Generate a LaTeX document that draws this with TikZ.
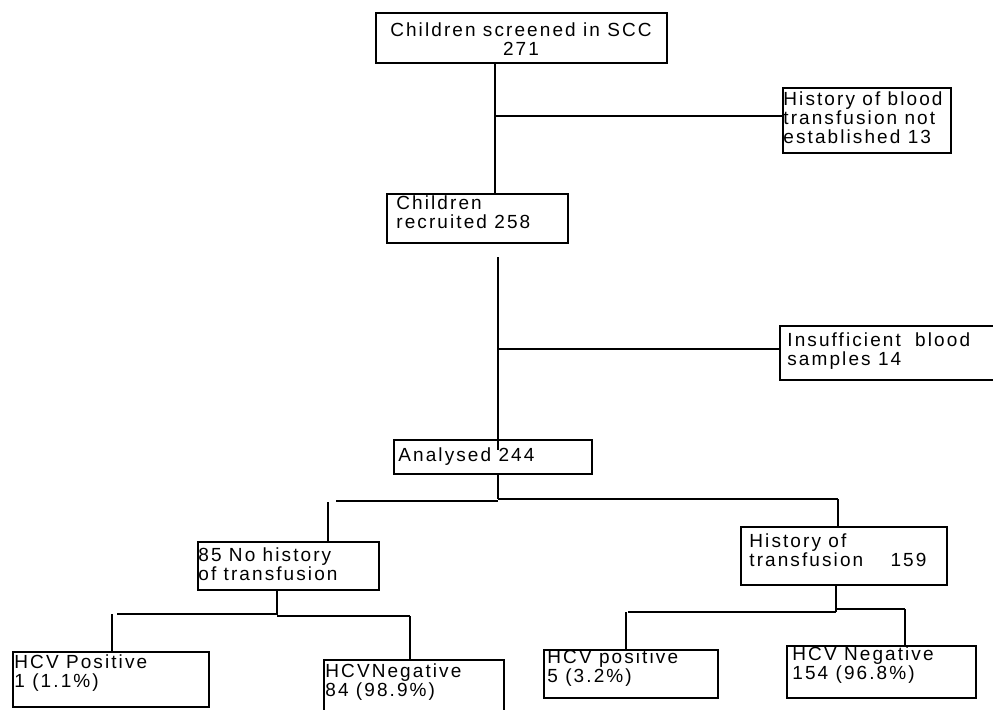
\documentclass[tikz,border=0pt]{standalone}
\usepackage{fontspec}
\setmainfont[LetterSpace=11]{Liberation Sans}
\begin{document}
\begin{tikzpicture}[x=0.5pt,y=-0.5pt,
  box/.style={draw, line width=1pt, inner sep=0pt, anchor=north west},
  txt/.style={inner sep=0pt, anchor=north west, align=left, font=\fontsize{9.5}{9.5}\selectfont},
  vline/.style={line width=1.1pt},
  hline/.style={line width=0.7pt}]
\useasboundingbox (0,0) rectangle (993,709);
\clip (0,0) rectangle (993,709);
% boxes
\node[box, minimum width=145.5pt, minimum height=25pt] (b1) at (375,12) {};
\node[box, minimum width=90.5pt, minimum height=24.5pt] (b2) at (386,193) {};
\node[box, minimum width=84pt, minimum height=32.5pt] (b3) at (782,87) {};
\node[box, minimum width=115pt, minimum height=27pt] (b4) at (779,325) {};
\node[box, minimum width=99pt, minimum height=17pt] (ba) at (393,439) {};
\node[box, minimum width=90.5pt, minimum height=24pt] (b85) at (197,541) {};
\node[box, minimum width=103pt, minimum height=29pt] (bh) at (740,526) {};
\node[box, minimum width=98pt, minimum height=27.5pt] (blp) at (12,651) {};
\node[box, minimum width=90pt, minimum height=35pt] (bln) at (323,659) {};
\node[box, minimum width=87pt, minimum height=24pt] (brp) at (543,649) {};
\node[box, minimum width=94.5pt, minimum height=26pt] (brn) at (786,645) {};
% texts
\node[txt, anchor=north, align=center] (t1) at (521,22) {Children screened in SCC\\271};
\node[txt] (t2) at (396,195) {Children\\recruited 258};
\node[txt] (t3) at (783,91) {History of blood\\transfusion not\\established 13};
\node[txt] (t4) at (787,332) {Insufficient\hspace{3.5pt} blood\\samples 14};
\node[txt] (ta) at (398,447) {Analysed 244};
\node[txt] (t85) at (198,547) {85 No history\\of transfusion};
\node[txt] (th) at (749,533) {History of\\transfusion\hspace{10pt} 159};
\node[txt] (tlp) at (14,654) {HCV Positive\\1 (1.1\%)};
\node[txt] (tln) at (325,663) {HCVNegative\\84 (98.9\%)};
\node[txt] (trp) at (547,649) {HCV positive\\5 (3.2\%)};
\node[txt] (trn) at (792,646) {HCV Negative\\154 (96.8\%)};
% trunk 1
\coordinate (c1) at (495,116);
\draw[vline] (c1 |- b1.south) -- (c1 |- b2.north);
\draw[hline] (c1) -- (c1 -| b3.west);
% trunk 2
\coordinate (t2top) at (498,257);
\coordinate (t2bot) at (498,450);
\coordinate (c2) at (498,349);
\draw[vline] (t2top) -- (t2bot);
\draw[hline] (c2) -- (c2 -| b4.west);
% split after analysed
\coordinate (j1) at (498,499);
\coordinate (j1r) at (838,499);
\coordinate (j1l) at (336,501);
\coordinate (k1) at (328,502);
\draw[vline] (j1 |- ba.south) -- (j1);
\draw[hline] (j1) -- (j1r);
\draw[vline] (j1r) -- (j1r |- bh.north);
\draw[hline] (j1l) -- (j1 |- j1l);
\draw[vline] (k1) -- (k1 |- b85.north);
% split under 85
\coordinate (j2) at (277,615);
\coordinate (j2l) at (117,614);
\coordinate (k2) at (112,614);
\coordinate (j2r) at (410,616);
\draw[vline] (j2 |- b85.south) -- (j2);
\draw[hline] (j2l) -- (j2 |- j2l);
\draw[vline] (k2) -- (k2 |- blp.north);
\draw[hline] (j2 |- j2r) -- (j2r);
\draw[vline] (j2r) -- (j2r |- bln.north);
% split under history
\coordinate (j3) at (836,612);
\coordinate (j3l) at (628,612);
\coordinate (k3) at (626,612);
\coordinate (j3r) at (905,609);
\draw[vline] (j3 |- bh.south) -- (j3);
\draw[hline] (j3l) -- (j3);
\draw[vline] (k3) -- (k3 |- brp.north);
\draw[hline] (j3 |- j3r) -- (j3r);
\draw[vline] (j3r) -- (j3r |- brn.north);
\end{tikzpicture}
\end{document}
